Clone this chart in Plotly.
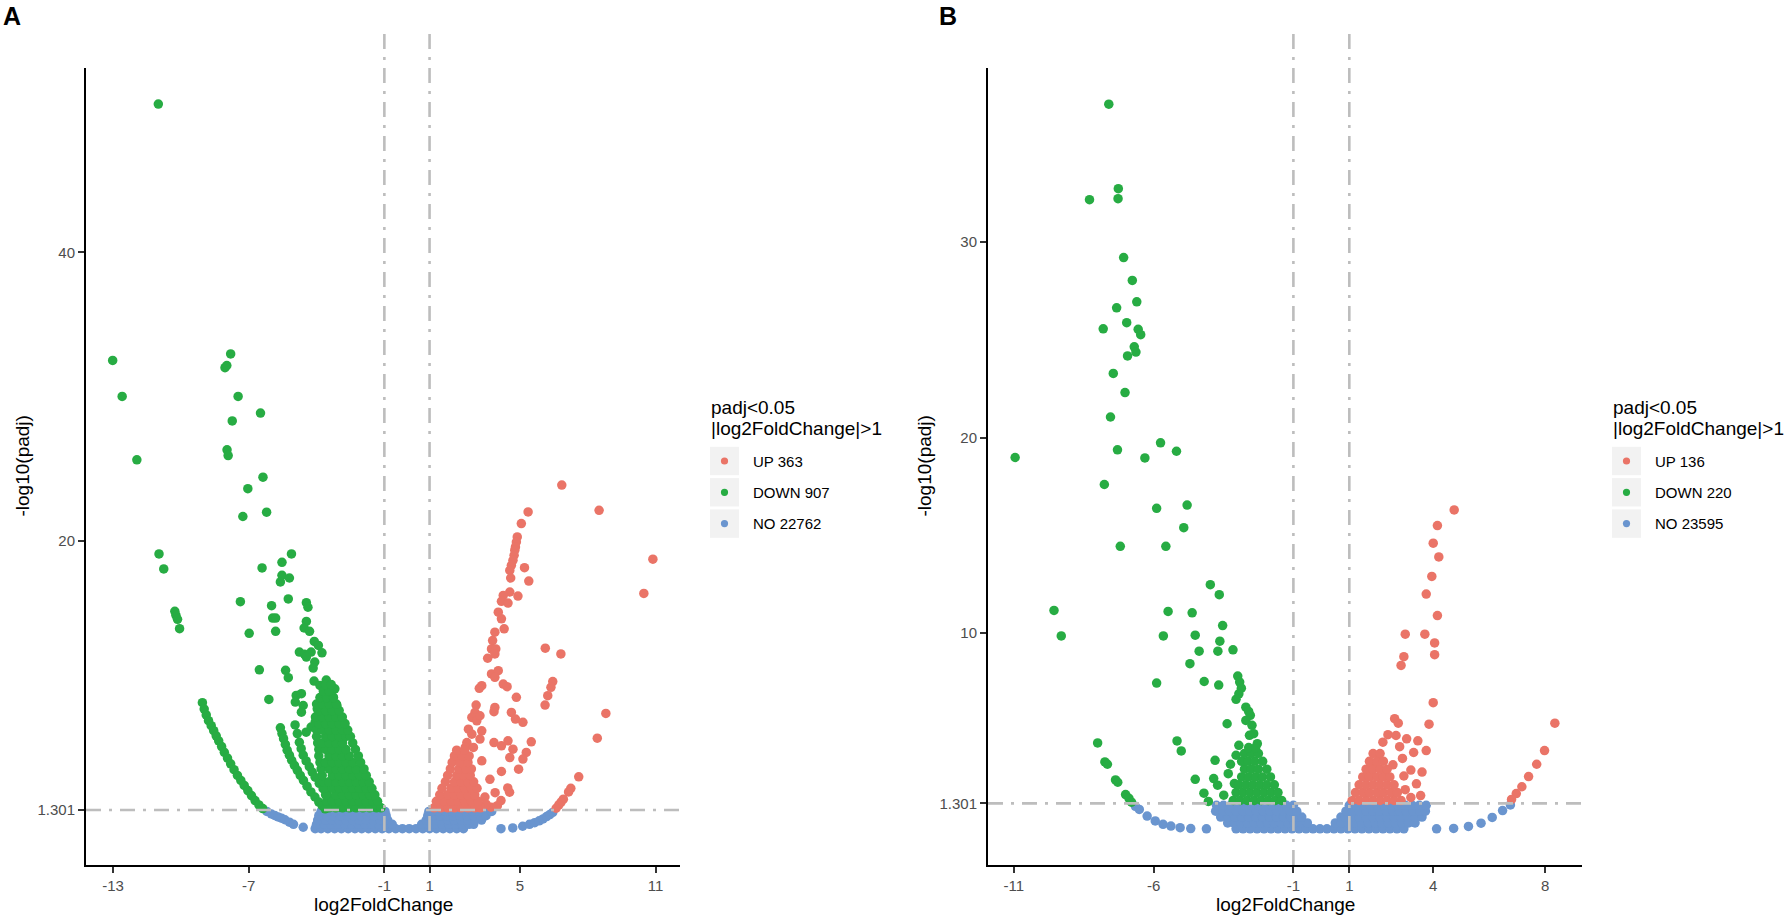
import plotly.graph_objects as go
from plotly.subplots import make_subplots

W, H = 1784, 921
FONT = 'Liberation Sans, Arial, Helvetica, sans-serif'

# colours picked off the figure
UP_COL = '#EA7467'
DOWN_COL = '#27AC43'
NO_COL = '#6A95CF'
GUIDE_COL = '#BDBDBD'

LEGEND_TITLE = ['padj&lt;0.05', '|log2FoldChange|&gt;1']

# ---------------- panel A ----------------
A_XTICKS = [-13, -7, -1, 1, 5, 11]
A_YTICKS = [1.301, 20, 40]
A_COUNTS = ['UP 363', 'DOWN 907', 'NO 22762']

# isolated DOWN genes (log2FC, -log10 padj)
A_DOWN_PTS = [
    (-11.0, 50.3), (-13.02, 32.5), (-12.6, 30.0), (-11.95, 25.6),
    (-7.8, 32.95), (-8.05, 32.0), (-7.97, 32.15), (-7.47, 30.0), (-6.48, 28.85), (-7.73, 28.3),
    (-7.96, 26.3), (-7.91, 25.9), (-6.37, 24.4), (-7.04, 23.6), (-7.26, 21.67), (-6.21, 21.97),
    (-10.97, 19.07), (-10.76, 18.03), (-5.11, 19.07), (-5.53, 18.49), (-6.41, 18.1),
    (-5.53, 17.59), (-5.2, 17.4), (-5.6, 17.13), (-7.37, 15.76), (-5.25, 15.95),
    (-10.27, 15.09), (-10.22, 14.81), (-10.15, 14.53), (-10.06, 13.88),
    (-4.45, 15.69), (-4.38, 15.37), (-5.99, 15.48), (-5.94, 14.62), (-5.81, 14.62),
    (-5.81, 13.7), (-6.98, 13.56), (-4.45, 14.39), (-4.55, 13.93), (-4.31, 13.7),
    (-4.1, 13.0), (-3.92, 12.72), (-4.76, 12.26), (-4.53, 12.1), (-4.24, 12.26),
    (-3.76, 12.21), (-4.45, 11.91), (-4.08, 11.57), (-4.15, 11.15), (-6.53, 11.03),
    (-5.37, 10.99), (-5.25, 10.48), (-4.11, 10.25), (-3.57, 10.32), (-3.85, 9.94),
    (-3.19, 9.71), (-3.66, 9.37), (-3.27, 9.13), (-6.11, 8.97), (-4.9, 9.25), (-4.67, 9.37),
    (-4.94, 8.79), (-4.59, 8.55), (-4.67, 8.09), (-3.1, 8.55), (-3.97, 8.32), (-3.54, 8.09),
    (-3.8, 7.74), (-4.06, 7.4), (-4.24, 7.05), (-4.46, 6.7),
]
# the three curved strings of DOWN genes
A_DOWN_ARCS = [
    (-9.05, 8.75), (-8.97, 8.3), (-8.88, 7.9), (-8.78, 7.5), (-8.66, 7.15), (-8.55, 6.8),
    (-8.44, 6.45), (-8.33, 6.1), (-8.2, 5.7), (-8.08, 5.3), (-7.94, 4.9), (-7.8, 4.5),
    (-7.65, 4.1), (-7.5, 3.7), (-7.35, 3.35), (-7.2, 3.0), (-7.04, 2.65), (-6.88, 2.3),
    (-6.72, 1.95), (-6.55, 1.65), (-6.38, 1.4),
    (-5.6, 7.0), (-5.53, 6.6), (-5.46, 6.25), (-5.38, 5.85), (-5.3, 5.45), (-5.2, 5.1),
    (-5.1, 4.75), (-4.98, 4.4), (-4.85, 4.05), (-4.72, 3.7), (-4.58, 3.35), (-4.42, 2.95),
    (-4.25, 2.55), (-4.07, 2.2), (-3.9, 1.85), (-3.75, 1.6), (-3.62, 1.38),
    (-4.95, 7.2), (-4.85, 6.6), (-4.76, 6.0), (-4.68, 5.55), (-4.59, 5.1), (-4.46, 4.7),
    (-4.32, 4.3), (-4.19, 3.93), (-4.06, 3.57), (-3.88, 3.15), (-3.71, 2.78), (-3.53, 2.42),
    (-3.36, 2.08), (-3.18, 1.78), (-3.0, 1.5),
]
# the solid DOWN cloud, one row of genes per -log10 padj level
A_DOWN_ROWS = [
    (1.45, [-3.45, -3.15, -2.85, -2.55, -2.25, -1.95, -1.65, -1.35, -1.15]),
    (1.9, [-3.55, -3.3, -3.0, -2.7, -2.4, -2.1, -1.8, -1.5, -1.3]),
    (2.35, [-3.6, -3.15, -2.85, -2.55, -2.25, -1.95, -1.65, -1.42]),
    (2.8, [-3.65, -3.3, -3.0, -2.7, -2.4, -2.1, -1.8, -1.55]),
    (3.25, [-3.7, -3.45, -3.15, -2.85, -2.55, -2.25, -1.95, -1.67]),
    (3.7, [-3.75, -3.3, -3.0, -2.7, -2.4, -2.1, -1.8]),
    (4.15, [-3.8, -3.45, -3.15, -2.85, -2.55, -2.25, -1.9]),
    (4.6, [-3.85, -3.6, -3.3, -3.0, -2.7, -2.4, -2.05]),
    (5.05, [-3.9, -3.45, -3.15, -2.85, -2.55, -2.15]),
    (5.5, [-3.9, -3.6, -3.3, -3.0, -2.7, -2.28]),
    (5.95, [-3.95, -3.75, -3.45, -3.15, -2.85, -2.4]),
    (6.4, [-4.0, -3.6, -3.3, -3.0, -2.7, -2.5]),
    (6.85, [-4.0, -3.75, -3.45, -3.15, -2.85, -2.62]),
    (7.3, [-3.9, -3.6, -3.3, -3.0, -2.74]),
    (7.75, [-4.05, -3.75, -3.45, -3.15, -2.86]),
    (8.2, [-3.9, -3.6, -3.3, -3.0]),
    (8.65, [-4.0, -3.75, -3.45, -3.12]),
    (9.1, [-3.85, -3.55, -3.25]),
    (9.55, [-3.7, -3.45]),
    (10.0, [-3.6, -3.35]),
]

A_UP_PTS = [
    (6.85, 23.85), (8.5, 22.1), (5.36, 21.99), (5.06, 21.18),
    (4.88, 20.25), (4.84, 19.9), (4.8, 19.56), (4.77, 19.33), (4.74, 18.98), (4.69, 18.63),
    (4.62, 18.28), (4.55, 17.93), (4.59, 17.4), (5.2, 18.12), (5.39, 17.19),
    (4.55, 16.43), (4.26, 16.19), (4.18, 15.78), (4.47, 15.66), (4.91, 16.15),
    (4.04, 15.03), (4.18, 14.57), (4.3, 13.87), (3.89, 13.64), (3.79, 13.06), (3.74, 12.48),
    (3.93, 12.48), (3.89, 12.13), (3.57, 11.83), (6.12, 12.53), (6.81, 12.13),
    (3.74, 10.74), (4.04, 10.97), (3.89, 10.51), (3.31, 9.93), (3.2, 9.74), (4.26, 10.04),
    (4.43, 9.86), (6.45, 10.21), (6.37, 9.81), (6.23, 9.23), (6.11, 8.58), (4.84, 9.12),
    (3.06, 8.58), (3.01, 8.07), (2.87, 7.72), (3.09, 7.49), (3.23, 7.84), (3.85, 8.12),
    (3.89, 8.42), (4.62, 8.07), (4.8, 7.61), (5.13, 7.38), (8.8, 8.0),
    (2.72, 6.91), (2.87, 6.56), (3.31, 6.79), (3.23, 6.22), (3.85, 5.98), (4.18, 5.75),
    (4.47, 6.1), (4.69, 5.52), (5.5, 6.03), (8.42, 6.28), (2.65, 5.98), (2.58, 5.64),
    (2.94, 5.64), (5.28, 5.29), (5.13, 4.83), (4.55, 4.94), (3.31, 4.71), (4.18, 3.97),
    (4.94, 4.13), (3.67, 3.43), (10.88, 18.71), (10.48, 16.33),
    (7.6, 3.6), (7.25, 2.8), (7.15, 2.55), (6.92, 2.05), (6.82, 1.85), (6.72, 1.65), (6.6, 1.42),
    (3.72, 1.49), (4.16, 1.95), (4.54, 2.53), (4.46, 2.83), (3.45, 2.2), (3.9, 2.5),
    (4.0, 1.6), (3.5, 1.7),
]
A_UP_ROWS = [
    (1.45, [1.2, 1.5, 1.8, 2.1, 2.4, 2.7, 3.0, 3.25]),
    (1.9, [1.3, 1.65, 1.95, 2.25, 2.55, 2.85, 3.15]),
    (2.35, [1.45, 1.8, 2.1, 2.4, 2.7, 3.0]),
    (2.8, [1.55, 1.95, 2.25, 2.55, 2.85, 3.1]),
    (3.25, [1.7, 2.1, 2.4, 2.7, 2.95]),
    (3.7, [1.8, 2.2, 2.5, 2.8]),
    (4.15, [1.92, 2.3, 2.6, 2.85]),
    (4.6, [2.0, 2.35, 2.7]),
    (5.05, [2.1, 2.45, 2.75]),
    (5.45, [2.2, 2.55]),
]

A_NO_PTS = [
    (-6.2, 1.2), (-6.0, 1.02), (-5.85, 0.92), (-5.7, 0.82), (-5.55, 0.73), (-5.4, 0.62),
    (-5.2, 0.45), (-5.02, 0.3), (-4.59, 0.1),
    (4.16, 0.0), (4.68, 0.05), (5.12, 0.17), (5.42, 0.3), (5.65, 0.42), (5.85, 0.55),
    (6.02, 0.68), (6.18, 0.84), (6.32, 0.98), (6.45, 1.13),
]
A_NO_ROWS = [
    (0.0, [-4.06, -3.8, -3.5, -3.2, -2.9, -2.6, -2.3, -2.0, -1.7, -1.4, -1.1, -0.8, -0.5,
           -0.2, 0.1, 0.4, 0.7, 1.0, 1.3, 1.6, 1.9, 2.2, 2.5]),
    (0.3, [-4.0, -3.65, -3.35, -3.05, -2.75, -2.45, -2.15, -1.85, -1.55, -1.25, -0.95,
           -0.65, 0.65, 0.95, 1.25, 1.55, 1.85, 2.15, 2.45, 2.75, 2.95]),
    (0.6, [-3.95, -3.6, -3.3, -3.0, -2.7, -2.4, -2.1, -1.8, -1.5, -1.2, -0.85, 0.85, 1.2,
           1.5, 1.8, 2.1, 2.4, 2.7, 3.0, 3.3]),
    (0.9, [-3.9, -3.55, -3.25, -2.95, -2.65, -2.35, -2.05, -1.75, -1.45, -1.15, -0.92, 0.92,
           1.15, 1.45, 1.75, 2.05, 2.35, 2.65, 2.95, 3.25, 3.5]),
    (1.2, [-3.8, -3.5, -3.2, -2.9, -2.6, -2.3, -2.0, -1.7, -1.4, -1.1, -0.97, 0.97, 1.1,
           1.4, 1.7, 2.0, 2.3, 2.6, 2.9, 3.2, 3.5, 3.75]),
]

# ---------------- panel B ----------------
B_XTICKS = [-11, -6, -1, 1, 4, 8]
B_YTICKS = [1.301, 10, 20, 30]
B_COUNTS = ['UP 136', 'DOWN 220', 'NO 23595']

B_DOWN_PTS = [
    (-7.6, 37.04), (-7.26, 32.72), (-8.29, 32.16), (-7.27, 32.21), (-7.07, 29.2), (-6.76, 28.03),
    (-6.6, 26.94), (-7.32, 26.63), (-6.96, 25.87), (-7.8, 25.56), (-6.55, 25.53), (-6.46, 25.26),
    (-6.69, 24.64), (-6.63, 24.37), (-6.93, 24.17), (-7.44, 23.28), (-7.02, 22.3), (-7.54, 21.05),
    (-7.29, 19.37), (-5.75, 19.73), (-5.18, 19.3), (-6.31, 18.96), (-10.95, 18.98), (-7.76, 17.6),
    (-5.89, 16.38), (-4.8, 16.55), (-4.92, 15.39), (-7.19, 14.44), (-5.56, 14.44),
    (-3.97, 12.48), (-3.65, 11.97), (-9.56, 11.16), (-5.48, 11.11), (-4.62, 11.04), (-3.53, 10.39),
    (-9.3, 9.86), (-5.65, 9.86), (-4.51, 9.9), (-3.63, 9.59), (-4.37, 9.08), (-3.7, 9.08),
    (-3.16, 9.15), (-4.7, 8.44), (-5.89, 7.45), (-4.19, 7.53), (-3.67, 7.35),
    (-2.99, 7.81), (-2.92, 7.5), (-2.86, 7.19), (-2.95, 6.9), (-3.05, 6.62), (-2.7, 6.22),
    (-2.6, 6.0), (-2.54, 5.8), (-2.7, 5.54), (-2.48, 5.29), (-2.42, 4.86), (-2.57, 4.78),
    (-2.29, 4.35), (-3.37, 5.37), (-8.0, 4.39), (-5.16, 4.49), (-5.01, 3.98), (-2.95, 4.27),
    (-3.05, 3.76), (-7.74, 3.42), (-7.65, 3.3), (-3.8, 3.5), (-7.36, 2.5), (-7.28, 2.38),
    (-4.51, 2.53), (-3.85, 2.57), (-3.33, 2.82), (-3.71, 2.23), (-3.11, 2.31), (-7.0, 1.75),
    (-6.88, 1.56), (-6.79, 1.36), (-4.2, 1.82), (-3.49, 1.72), (-4.04, 1.4), (-3.25, 3.3),
]
B_DOWN_ROWS = [
    (1.45, [-3.15, -2.9, -2.65, -2.4, -2.15, -1.9, -1.65, -1.42]),
    (1.85, [-3.05, -2.8, -2.55, -2.3, -2.05, -1.8, -1.55]),
    (2.25, [-2.95, -2.7, -2.45, -2.2, -1.95, -1.68]),
    (2.65, [-2.85, -2.6, -2.35, -2.1, -1.82]),
    (3.05, [-2.75, -2.5, -2.25, -1.95]),
    (3.45, [-2.85, -2.62, -2.38, -2.1]),
    (3.85, [-2.75, -2.5, -2.25]),
    (4.15, [-2.6, -2.35]),
]

B_UP_PTS = [
    (4.75, 16.3), (4.15, 15.5), (4.0, 14.6), (4.2, 13.9), (3.95, 12.9), (3.75, 12.0),
    (4.15, 10.9), (3.7, 9.95), (4.05, 9.5), (4.05, 8.9), (3.0, 9.95), (2.95, 8.8), (2.85, 8.35),
    (4.0, 6.45), (3.85, 5.35), (3.75, 4.0), (3.05, 4.6),
    (2.62, 5.63), (2.75, 5.4), (2.38, 4.81), (2.67, 4.77), (2.2, 4.43), (2.05, 3.75),
    (2.56, 3.27), (1.85, 3.24), (1.73, 2.9), (2.27, 2.9), (2.9, 3.6), (3.2, 3.0), (3.4, 2.3),
    (3.0, 2.0), (3.55, 1.7), (2.8, 4.2), (3.3, 3.9), (2.95, 2.7), (3.6, 2.9), (3.2, 1.6),
    (3.45, 4.5),
    (8.35, 5.4), (7.98, 4.0), (7.7, 3.3), (7.41, 2.67), (7.17, 2.15), (6.97, 1.8), (6.8, 1.5),
]
B_UP_ROWS = [
    (1.45, [1.1, 1.35, 1.6, 1.85, 2.1, 2.35, 2.6, 2.85]),
    (1.85, [1.22, 1.48, 1.72, 1.98, 2.22, 2.48, 2.72]),
    (2.25, [1.35, 1.6, 1.85, 2.1, 2.35, 2.6]),
    (2.65, [1.48, 1.72, 1.98, 2.22, 2.45]),
    (3.05, [1.6, 1.85, 2.1, 2.35]),
    (3.45, [1.72, 1.98, 2.22]),
    (3.85, [1.85, 2.1]),
]

B_NO_PTS = [
    (-6.65, 1.15), (-6.51, 0.99), (-6.23, 0.65), (-5.94, 0.4), (-5.66, 0.23), (-5.38, 0.14),
    (-5.05, 0.06), (-4.67, 0.01), (-4.11, 0.0),
    (4.12, 0.0), (4.73, 0.02), (5.26, 0.12), (5.71, 0.29), (6.11, 0.58), (6.48, 0.93),
    (6.76, 1.22),
]
B_NO_ROWS = [
    (0.0, [-3.05, -2.8, -2.55, -2.3, -2.05, -1.8, -1.55, -1.3, -1.05, -0.8, -0.55, -0.3,
           -0.05, 0.2, 0.45, 0.7, 0.95, 1.2, 1.45, 1.7, 1.95, 2.2, 2.45, 2.7, 2.95]),
    (0.3, [-3.35, -3.12, -2.88, -2.64, -2.4, -2.16, -1.92, -1.68, -1.44, -1.2, -0.96, -0.72,
           -0.5, 0.5, 0.72, 0.96, 1.2, 1.44, 1.68, 1.92, 2.16, 2.4, 2.64, 2.88, 3.12, 3.35]),
    (0.6, [-3.6, -3.35, -3.1, -2.85, -2.6, -2.35, -2.1, -1.85, -1.6, -1.35, -1.1, -0.85,
           -0.7, 0.7, 0.85, 1.1, 1.35, 1.6, 1.85, 2.1, 2.35, 2.6, 2.85, 3.1, 3.35, 3.6]),
    (0.9, [-3.78, -3.52, -3.28, -3.04, -2.8, -2.56, -2.32, -2.08, -1.84, -1.6, -1.36, -1.12,
           -0.88, 0.88, 1.12, 1.36, 1.6, 1.84, 2.08, 2.32, 2.56, 2.8, 3.04, 3.28, 3.52, 3.72]),
    (1.2, [-3.75, -3.5, -3.25, -3.0, -2.75, -2.5, -2.25, -2.0, -1.75, -1.5, -1.25, -1.0,
           1.0, 1.25, 1.5, 1.75, 2.0, 2.25, 2.5, 2.75, 3.0, 3.25, 3.5, 3.75]),
]

THRESH_FC = [-1, 1]
THRESH_P = 1.301


def px(x):
    return x / W


def py(y):
    return 1 - y / H


def flat(pts, rows):
    xs = [p[0] for p in pts]
    ys = [p[1] for p in pts]
    for y, row in rows:
        xs += row
        ys += [y] * len(row)
    return xs, ys


panels = [
    dict(no=flat(A_NO_PTS, A_NO_ROWS),
         down=flat(A_DOWN_PTS + A_DOWN_ARCS, A_DOWN_ROWS),
         up=flat(A_UP_PTS, A_UP_ROWS),
         xticks=A_XTICKS, yticks=A_YTICKS, counts=A_COUNTS,
         xrange=[-14.2, 12.08], yrange=[-2.52, 52.8], left=86, letter='A', letter_x=1),
    dict(no=flat(B_NO_PTS, B_NO_ROWS),
         down=flat(B_DOWN_PTS, B_DOWN_ROWS),
         up=flat(B_UP_PTS, B_UP_ROWS),
         xticks=B_XTICKS, yticks=B_YTICKS, counts=B_COUNTS,
         xrange=[-11.92, 9.32], yrange=[-1.85, 38.89], left=988, letter='B', letter_x=937),
]

fig = make_subplots(rows=1, cols=2)

PANEL_W = 594
PANEL_TOP, PANEL_BOT = 68, 865
GUIDE = dict(color=GUIDE_COL, width=2.6, dash='15px,8px,3px,8px')

axis_style = dict(showline=True, linecolor='black', linewidth=2, ticks='outside', ticklen=6,
                  tickwidth=1.6, tickcolor='#333333', showgrid=False, zeroline=False,
                  tickfont=dict(family=FONT, size=15, color='#4D4D4D'), fixedrange=True)

annotations = []
shapes = []

for i, p in enumerate(panels, start=1):
    for key, colour in (('no', NO_COL), ('down', DOWN_COL), ('up', UP_COL)):
        xs, ys = p[key]
        fig.add_trace(go.Scatter(x=xs, y=ys, mode='markers',
                                 marker=dict(color=colour, size=9.5, line=dict(width=0)),
                                 showlegend=False, hoverinfo='skip'), row=1, col=i)

    left = p['left']
    right = left + PANEL_W
    fig.update_xaxes(axis_style, domain=[px(left), px(right)], range=p['xrange'],
                     tickvals=p['xticks'], ticktext=[str(v) for v in p['xticks']], row=1, col=i)
    fig.update_yaxes(axis_style, domain=[py(PANEL_BOT), py(PANEL_TOP)], range=p['yrange'],
                     tickvals=p['yticks'], ticktext=[str(v) for v in p['yticks']], row=1, col=i)

    xr = 'x' if i == 1 else 'x%d' % i
    yr = 'y' if i == 1 else 'y%d' % i

    # threshold guides
    for fc in THRESH_FC:
        shapes.append(dict(type='line', xref=xr, yref='paper', x0=fc, x1=fc,
                           y0=py(PANEL_BOT), y1=py(26), line=GUIDE))
    shapes.append(dict(type='line', xref=xr + ' domain', yref=yr, x0=0, x1=1,
                       y0=THRESH_P, y1=THRESH_P, line=GUIDE))

    # panel letter
    annotations.append(dict(text='<b>%s</b>' % p['letter'], x=px(p['letter_x']), y=py(16),
                            xref='paper', yref='paper', xanchor='left', yanchor='middle',
                            showarrow=False, font=dict(family=FONT, size=25, color='black')))
    # axis titles
    annotations.append(dict(text='log2FoldChange', x=px((left + right) / 2), y=py(904),
                            xref='paper', yref='paper', xanchor='center', yanchor='middle',
                            showarrow=False, font=dict(family=FONT, size=19, color='black')))
    annotations.append(dict(text='-log10(padj)', x=px(left - 64), y=py((PANEL_TOP + PANEL_BOT) / 2),
                            xref='paper', yref='paper', xanchor='center', yanchor='middle',
                            textangle=-90, showarrow=False,
                            font=dict(family=FONT, size=19, color='black')))

    # legend, drawn by hand to get the grey ggplot key boxes
    lx = left + 624
    for j, line in enumerate(LEGEND_TITLE):
        annotations.append(dict(text=line, x=px(lx - 1), y=py(407 + 21.5 * j), xref='paper',
                                yref='paper', xanchor='left', yanchor='middle', showarrow=False,
                                font=dict(family=FONT, size=19, color='black')))
    for j, (label, colour) in enumerate(zip(p['counts'], (UP_COL, DOWN_COL, NO_COL))):
        cy = 461 + 31.3 * j
        shapes.append(dict(type='rect', xref='paper', yref='paper', layer='below',
                           x0=px(lx), x1=px(lx + 29), y0=py(cy + 14.2), y1=py(cy - 14.2),
                           fillcolor='#F2F2F2', line=dict(width=0)))
        shapes.append(dict(type='circle', xref='paper', yref='paper', xsizemode='pixel',
                           ysizemode='pixel', xanchor=px(lx + 14.5), yanchor=py(cy),
                           x0=-3.6, x1=3.6, y0=-3.6, y1=3.6, fillcolor=colour,
                           line=dict(width=0)))
        annotations.append(dict(text=label, x=px(lx + 41), y=py(cy), xref='paper', yref='paper',
                                xanchor='left', yanchor='middle', showarrow=False,
                                font=dict(family=FONT, size=15, color='black')))

fig.update_layout(
    width=W, height=H, autosize=False,
    margin=dict(l=0, r=0, t=0, b=0),
    paper_bgcolor='white', plot_bgcolor='white',
    showlegend=False, hovermode=False,
    annotations=annotations, shapes=shapes,
)

fig.write_html("out.html", config={'displayModeBar': False},
               post_script="document.body.style.margin='0';document.body.style.overflow='hidden';")
